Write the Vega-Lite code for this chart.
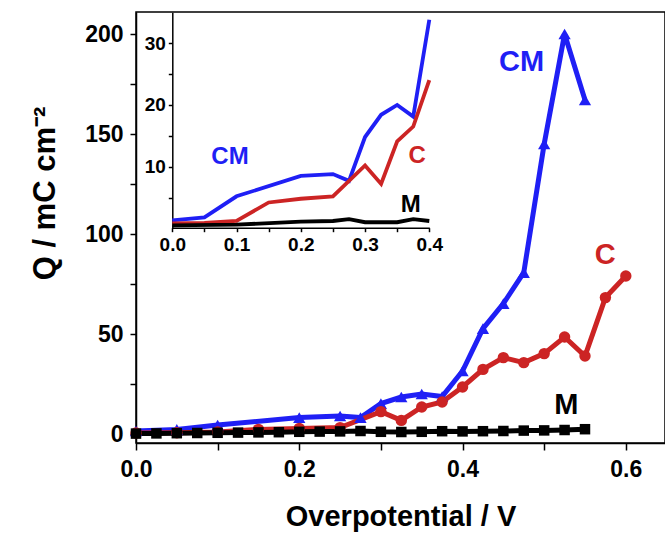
{
  "$schema": "https://vega.github.io/schema/vega-lite/v6.json",
  "width": 529,
  "height": 431,
  "autosize": "none",
  "padding": {"left": 136, "top": 12, "right": 0, "bottom": 90},
  "background": "white",
  "config": {
    "font": "Liberation Sans",
    "view": {"stroke": "black", "strokeWidth": 1.5},
    "axis": {
      "grid": false,
      "domainColor": "black",
      "domainWidth": 1.5,
      "tickColor": "black",
      "tickWidth": 1.5,
      "labelColor": "black",
      "labelFont": "Liberation Sans",
      "labelFontWeight": "bold",
      "titleFont": "Liberation Sans",
      "titleFontWeight": "bold",
      "titleColor": "black",
      "labelFlush": false,
      "labelOverlap": false,
      "labelBound": false
    }
  },
  "datasets": {
    "main": [
      {"V": 0.0, "q": 1.5, "s": "CM"},
      {"V": 0.05, "q": 2.3, "s": "CM"},
      {"V": 0.1, "q": 4.5, "s": "CM"},
      {"V": 0.2, "q": 8.2, "s": "CM"},
      {"V": 0.25, "q": 9.0, "s": "CM"},
      {"V": 0.275, "q": 8.2, "s": "CM"},
      {"V": 0.3, "q": 15.2, "s": "CM"},
      {"V": 0.325, "q": 18.5, "s": "CM"},
      {"V": 0.35, "q": 20.0, "s": "CM"},
      {"V": 0.375, "q": 18.7, "s": "CM"},
      {"V": 0.4, "q": 31.5, "s": "CM"},
      {"V": 0.425, "q": 52.7, "s": "CM"},
      {"V": 0.45, "q": 65.2, "s": "CM"},
      {"V": 0.475, "q": 80.7, "s": "CM"},
      {"V": 0.5, "q": 145, "s": "CM"},
      {"V": 0.525, "q": 200, "s": "CM"},
      {"V": 0.55, "q": 167, "s": "CM"},
      {"V": 0.0, "q": 0.5, "s": "C"},
      {"V": 0.05, "q": 0.6, "s": "C"},
      {"V": 0.1, "q": 1.0, "s": "C"},
      {"V": 0.15, "q": 2.3, "s": "C"},
      {"V": 0.2, "q": 2.8, "s": "C"},
      {"V": 0.25, "q": 3.2, "s": "C"},
      {"V": 0.3, "q": 11.2, "s": "C"},
      {"V": 0.325, "q": 6.8, "s": "C"},
      {"V": 0.35, "q": 13.5, "s": "C"},
      {"V": 0.375, "q": 16.0, "s": "C"},
      {"V": 0.4, "q": 23.5, "s": "C"},
      {"V": 0.425, "q": 32.3, "s": "C"},
      {"V": 0.45, "q": 38.2, "s": "C"},
      {"V": 0.475, "q": 35.7, "s": "C"},
      {"V": 0.5, "q": 40.2, "s": "C"},
      {"V": 0.525, "q": 48.5, "s": "C"},
      {"V": 0.55, "q": 39.0, "s": "C"},
      {"V": 0.575, "q": 68.2, "s": "C"},
      {"V": 0.6, "q": 79.0, "s": "C"},
      {"V": 0.0, "q": 0.2, "s": "M"},
      {"V": 0.025, "q": 0.3, "s": "M"},
      {"V": 0.05, "q": 0.4, "s": "M"},
      {"V": 0.075, "q": 0.5, "s": "M"},
      {"V": 0.1, "q": 0.6, "s": "M"},
      {"V": 0.125, "q": 0.7, "s": "M"},
      {"V": 0.15, "q": 0.8, "s": "M"},
      {"V": 0.175, "q": 0.9, "s": "M"},
      {"V": 0.2, "q": 1.1, "s": "M"},
      {"V": 0.225, "q": 1.2, "s": "M"},
      {"V": 0.25, "q": 1.3, "s": "M"},
      {"V": 0.275, "q": 1.5, "s": "M"},
      {"V": 0.3, "q": 1.1, "s": "M"},
      {"V": 0.325, "q": 1.0, "s": "M"},
      {"V": 0.35, "q": 1.1, "s": "M"},
      {"V": 0.375, "q": 1.4, "s": "M"},
      {"V": 0.4, "q": 1.3, "s": "M"},
      {"V": 0.425, "q": 1.4, "s": "M"},
      {"V": 0.45, "q": 1.5, "s": "M"},
      {"V": 0.475, "q": 1.7, "s": "M"},
      {"V": 0.5, "q": 1.8, "s": "M"},
      {"V": 0.525, "q": 2.0, "s": "M"},
      {"V": 0.55, "q": 2.4, "s": "M"}
    ],
    "mainLabels": [
      {"V": 0.4724, "q": 186, "s": "CM"},
      {"V": 0.5747, "q": 89.5, "s": "C"},
      {"V": 0.527, "q": 14.5, "s": "M"}
    ],
    "inset": [
      {"V": 0.0, "q": 1.3, "s": "CM"},
      {"V": 0.05, "q": 1.8, "s": "CM"},
      {"V": 0.1, "q": 5.2, "s": "CM"},
      {"V": 0.2, "q": 8.5, "s": "CM"},
      {"V": 0.25, "q": 8.8, "s": "CM"},
      {"V": 0.275, "q": 7.7, "s": "CM"},
      {"V": 0.3, "q": 14.8, "s": "CM"},
      {"V": 0.325, "q": 18.4, "s": "CM"},
      {"V": 0.35, "q": 20.0, "s": "CM"},
      {"V": 0.375, "q": 18.1, "s": "CM"},
      {"V": 0.4, "q": 33.8, "s": "CM"},
      {"V": 0.0, "q": 0.8, "s": "C"},
      {"V": 0.05, "q": 0.9, "s": "C"},
      {"V": 0.1, "q": 1.2, "s": "C"},
      {"V": 0.15, "q": 4.2, "s": "C"},
      {"V": 0.2, "q": 4.8, "s": "C"},
      {"V": 0.25, "q": 5.2, "s": "C"},
      {"V": 0.3, "q": 10.2, "s": "C"},
      {"V": 0.325, "q": 7.2, "s": "C"},
      {"V": 0.35, "q": 14.1, "s": "C"},
      {"V": 0.375, "q": 16.5, "s": "C"},
      {"V": 0.4, "q": 24.0, "s": "C"},
      {"V": 0.0, "q": 0.5, "s": "M"},
      {"V": 0.1, "q": 0.6, "s": "M"},
      {"V": 0.2, "q": 1.1, "s": "M"},
      {"V": 0.25, "q": 1.2, "s": "M"},
      {"V": 0.275, "q": 1.5, "s": "M"},
      {"V": 0.3, "q": 1.0, "s": "M"},
      {"V": 0.35, "q": 1.0, "s": "M"},
      {"V": 0.375, "q": 1.5, "s": "M"},
      {"V": 0.4, "q": 1.2, "s": "M"}
    ],
    "insetLabels": [
      {"V": 0.0898, "q": 11.5, "s": "CM"},
      {"V": 0.381, "q": 11.7, "s": "C"},
      {"V": 0.371, "q": 3.8, "s": "M"}
    ]
  },
  "layer": [
    {
      "layer": [
        {
          "data": {"name": "main"},
          "mark": {"type": "line", "strokeWidth": 5},
          "encoding": {
            "x": {
              "field": "V", "type": "quantitative",
              "scale": {"domain": [0, 0.648], "nice": false, "zero": false},
              "axis": {
                "orient": "bottom",
                "values": [0, 0.1, 0.2, 0.3, 0.4, 0.5, 0.6],
                "labelExpr": "round(datum.value*10) % 2 == 0 ? format(datum.value, '.1f') : ''",
                "labelFontSize": 23,
                "tickSize": 7,
                "labelPadding": 8,
                "title": "Overpotential / V",
                "titleFontSize": 29,
                "titleBaseline": "alphabetic",
                "titleY": 82
              }
            },
            "y": {
              "field": "q", "type": "quantitative",
              "scale": {"domain": [-4.5, 211], "nice": false, "zero": false},
              "axis": {
                "orient": "left",
                "values": [0, 25, 50, 75, 100, 125, 150, 175, 200],
                "labelExpr": "datum.value % 50 == 0 ? datum.label : ''",
                "labelFontSize": 23,
                "tickSize": 6,
                "labelPadding": 7,
                "title": "Q / mC cm⁻²",
                "titleFontSize": 31,
                "titleAngle": -90,
                "titleAlign": "center",
                "titleBaseline": "alphabetic",
                "titleX": -82,
                "titleY": 181
              }
            },
            "color": {
              "field": "s", "type": "nominal",
              "scale": {"domain": ["CM", "C", "M"], "range": ["#1f1ff5", "#cc2424", "#000000"]},
              "legend": null
            }
          }
        },
        {
          "data": {"name": "main"},
          "mark": {"type": "point", "filled": true, "opacity": 1},
          "encoding": {
            "x": {"field": "V", "type": "quantitative"},
            "y": {"field": "q", "type": "quantitative"},
            "color": {"field": "s", "type": "nominal", "legend": null},
            "shape": {
              "field": "s", "type": "nominal",
              "scale": {"domain": ["CM", "C", "M"], "range": ["triangle-up", "circle", "square"]},
              "legend": null
            },
            "size": {
              "field": "s", "type": "nominal",
              "scale": {"domain": ["CM", "C", "M"], "range": [150, 110, 60]},
              "legend": null
            }
          }
        },
        {
          "data": {"name": "mainLabels"},
          "mark": {"type": "text", "fontSize": 29, "fontWeight": "bold", "font": "Liberation Sans", "align": "center", "baseline": "middle"},
          "encoding": {
            "x": {"field": "V", "type": "quantitative"},
            "y": {"field": "q", "type": "quantitative"},
            "text": {"field": "s"},
            "color": {"field": "s", "type": "nominal", "legend": null}
          }
        }
      ]
    },
    {
      "layer": [
        {
          "data": {"name": "inset"},
          "mark": {"type": "line", "strokeWidth": 3.8},
          "encoding": {
            "x": {
              "field": "V", "type": "quantitative",
              "scale": {"domain": [0, 0.4], "nice": false, "zero": false, "range": [36.3, 293.3]},
              "axis": {
                "orient": "bottom",
                "offset": -215.3,
                "values": [0, 0.05, 0.1, 0.15, 0.2, 0.25, 0.3, 0.35, 0.4],
                "labelExpr": "round(datum.value*100) % 10 == 0 ? format(datum.value, '.1f') : ''",
                "labelFontSize": 19,
                "tickSize": 4,
                "labelPadding": 4,
                "title": null
              }
            },
            "y": {
              "field": "q", "type": "quantitative",
              "scale": {"domain": [0, 35], "nice": false, "zero": false, "range": [216.4, 0.3]},
              "axis": {
                "orient": "left",
                "offset": -36.3,
                "values": [5, 10, 15, 20, 25, 30],
                "labelExpr": "datum.value % 10 == 0 ? datum.label : ''",
                "labelFontSize": 19,
                "tickSize": 4,
                "labelPadding": 3,
                "title": null
              }
            },
            "color": {"field": "s", "type": "nominal", "legend": null}
          }
        },
        {
          "mark": {"type": "rect", "fill": null, "stroke": "black", "strokeWidth": 1.5},
          "encoding": {
            "x": {"datum": 0, "type": "quantitative"},
            "x2": {"datum": 0.4},
            "y": {"datum": 0, "type": "quantitative"},
            "y2": {"datum": 35}
          }
        },
        {
          "data": {"name": "insetLabels"},
          "mark": {"type": "text", "fontSize": 24, "fontWeight": "bold", "font": "Liberation Sans", "align": "center", "baseline": "middle"},
          "encoding": {
            "x": {"field": "V", "type": "quantitative"},
            "y": {"field": "q", "type": "quantitative"},
            "text": {"field": "s"},
            "color": {"field": "s", "type": "nominal", "legend": null}
          }
        }
      ]
    }
  ],
  "resolve": {
    "scale": {"x": "independent", "y": "independent"},
    "axis": {"x": "independent", "y": "independent"}
  }
}
